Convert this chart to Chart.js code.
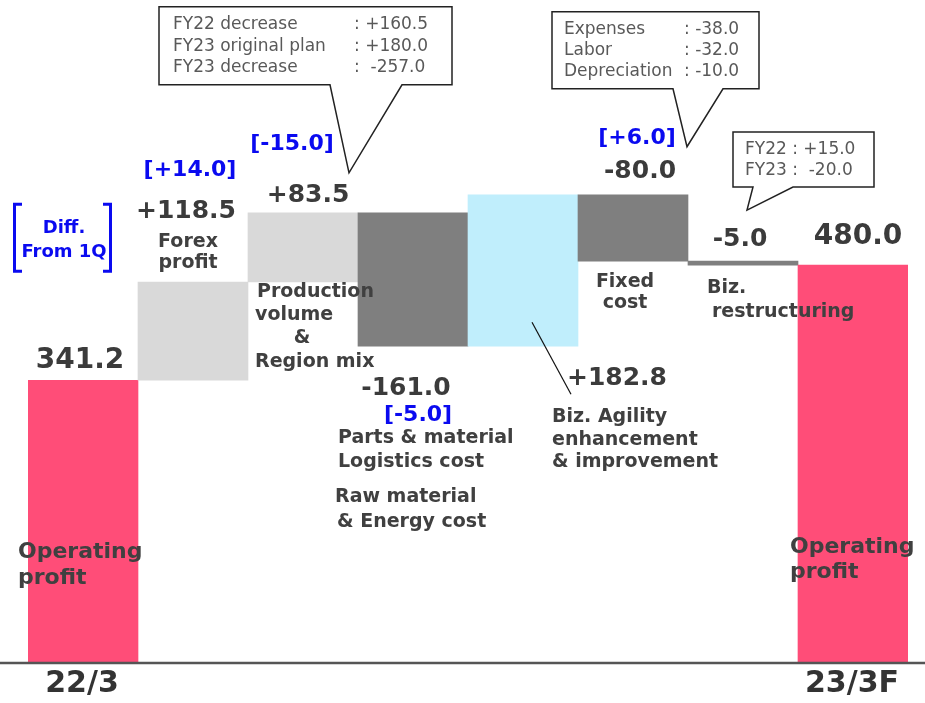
<!DOCTYPE html>
<html>
<head>
<meta charset="utf-8">
<script src="https://cdn.jsdelivr.net/npm/chart.js@4.4.1/dist/chart.umd.min.js"></script>
<style>
  html, body { margin: 0; padding: 0; background: #fff; }
</style>
</head>
<body>
<canvas id="chart" width="925" height="703"></canvas>
<script>
// waterfall: operating profit 22/3 -> 23/3F
const categories = ['22/3', 'Forex profit', 'Production volume & Region mix', 'Parts & material / Raw material',
  'Biz. Agility enhancement', 'Fixed cost', 'Biz. restructuring', '23/3F'];
const tickLabels = ['22/3', '', '', '', '', '', '', '23/3F'];
const changes = [341.2, 118.5, 83.5, -161.0, 182.8, -80.0, -5.0, 480.0];
const isTotal = [true, false, false, false, false, false, false, true];
const diffFrom1Q = ['', '+14.0', '-15.0', '-5.0', '', '+6.0', '', ''];

const volumeBreakdown = [['FY22 decrease', '+160.5'], ['FY23 original plan', '+180.0'], ['FY23 decrease', ' -257.0']];
const fixedBreakdown = [['Expenses', '-38.0'], ['Labor', '-32.0'], ['Depreciation', '-10.0']];
const restructBreakdown = [['FY22', '+15.0'], ['FY23', ' -20.0']];

const barColors = ['#ff4d78', '#d9d9d9', '#d9d9d9', '#7f7f7f', '#c0eefc', '#7f7f7f', '#7f7f7f', '#ff4d78'];

// floating ranges from the running total
let running = 0;
const ranges = changes.map((v, i) => {
  if (isTotal[i]) { running = v; return [0, v]; }
  const start = running;
  running += v;
  return [start, running];
});

const valueText = changes.map((v, i) => isTotal[i] ? v.toFixed(1) : (v > 0 ? '+' : '') + v.toFixed(1));

const FONT = "'DejaVu Sans', Verdana, sans-serif";
const DARK = '#3b3b3b';
const LABEL = '#404040';
const BLUE = '#0a0af0';

function txt(ctx, s, x, y, font, color, align) {
  ctx.font = font;
  ctx.fillStyle = color;
  ctx.textAlign = align || 'center';
  ctx.textBaseline = 'middle';
  ctx.fillText(s, x, y);
}

function callout(ctx, l, t, r, b, b1, b2, tx, ty) {
  ctx.beginPath();
  ctx.moveTo(l, t);
  ctx.lineTo(r, t);
  ctx.lineTo(r, b);
  ctx.lineTo(b2, b);
  ctx.lineTo(tx, ty);
  ctx.lineTo(b1, b);
  ctx.lineTo(l, b);
  ctx.closePath();
  ctx.fillStyle = '#fff';
  ctx.fill();
  ctx.strokeStyle = '#222';
  ctx.lineWidth = 1.5;
  ctx.stroke();
}

const annotations = {
  id: 'annotations',
  afterDatasetsDraw(chart) {
    const ctx = chart.ctx;
    const xs = chart.scales.x, ys = chart.scales.y;
    const cx = i => xs.getPixelForValue(i);
    const hi = i => ys.getPixelForValue(Math.max(...ranges[i]));
    const lo = i => ys.getPixelForValue(Math.min(...ranges[i]));
    const y0 = ys.getPixelForValue(0);
    ctx.save();

    // baseline across the whole width
    ctx.strokeStyle = '#555';
    ctx.lineWidth = 2.5;
    ctx.beginPath();
    ctx.moveTo(0, y0);
    ctx.lineTo(chart.width, y0);
    ctx.stroke();

    // category ticks under the axis
    tickLabels.forEach((s, i) => {
      if (s) txt(ctx, s, cx(i) - 1, y0 + 21, 'bold 30px ' + FONT, '#333');
    });

    // values
    const big = 'bold 28px ' + FONT, mid = 'bold 25px ' + FONT;
    txt(ctx, valueText[0], cx(0) - 3, hi(0) - 20, big, DARK);
    txt(ctx, valueText[1], cx(1) - 7, hi(1) - 71, mid, DARK);
    txt(ctx, valueText[2], cx(2) + 5, hi(2) - 17, mid, DARK);
    txt(ctx, valueText[3], cx(3) - 7, lo(3) + 42, mid, DARK);
    txt(ctx, valueText[4], cx(4) + 94, lo(4) + 32, mid, DARK);
    txt(ctx, valueText[5], cx(5) + 7, hi(5) - 23, mid, DARK);
    txt(ctx, valueText[6], cx(6) - 3, hi(6) - 22, mid, DARK);
    txt(ctx, valueText[7], cx(7) + 5, hi(7) - 28, big, DARK);

    // diff from 1Q
    const bf = 'bold 22px ' + FONT;
    txt(ctx, '[' + diffFrom1Q[1] + ']', cx(1) - 3, hi(1) - 112, bf, BLUE);
    txt(ctx, '[' + diffFrom1Q[2] + ']', cx(2) - 11, hi(2) - 69, bf, BLUE);
    txt(ctx, '[' + diffFrom1Q[3] + ']', cx(3) + 5, lo(3) + 69, bf, BLUE);
    txt(ctx, '[' + diffFrom1Q[5] + ']', cx(5) + 4, hi(5) - 56, bf, BLUE);

    // "Diff. From 1Q" legend with brackets
    const lf = 'bold 18px ' + FONT;
    txt(ctx, 'Diff.', cx(0) - 19, hi(0) - 152, lf, BLUE);
    txt(ctx, 'From 1Q', cx(0) - 19, hi(0) - 128, lf, BLUE);
    ctx.strokeStyle = BLUE;
    ctx.lineWidth = 3;
    ctx.beginPath();
    const bt = hi(0) - 176, bb = hi(0) - 109;
    ctx.moveTo(cx(0) - 61, bt); ctx.lineTo(cx(0) - 68.5, bt); ctx.lineTo(cx(0) - 68.5, bb); ctx.lineTo(cx(0) - 61, bb);
    ctx.moveTo(cx(0) + 20, bt); ctx.lineTo(cx(0) + 27.5, bt); ctx.lineTo(cx(0) + 27.5, bb); ctx.lineTo(cx(0) + 20, bb);
    ctx.stroke();

    // category labels
    const cf = 'bold 19px ' + FONT;
    txt(ctx, 'Forex', cx(1) - 5, hi(1) - 40, cf, LABEL);
    txt(ctx, 'profit', cx(1) - 5, hi(1) - 19, cf, LABEL);
    txt(ctx, 'Production', cx(2) - 46, hi(2) + 79, cf, LABEL, 'left');
    txt(ctx, 'volume', cx(2) - 48, hi(2) + 102, cf, LABEL, 'left');
    txt(ctx, '&', cx(2) - 1, hi(2) + 125, cf, LABEL);
    txt(ctx, 'Region mix', cx(2) - 48, hi(2) + 149, cf, LABEL, 'left');
    txt(ctx, 'Parts & material', cx(3) - 75, lo(3) + 92, cf, LABEL, 'left');
    txt(ctx, 'Logistics cost', cx(3) - 75, lo(3) + 116, cf, LABEL, 'left');
    txt(ctx, 'Raw material', cx(3) - 78, lo(3) + 151, cf, LABEL, 'left');
    txt(ctx, '& Energy cost', cx(3) - 76, lo(3) + 176, cf, LABEL, 'left');
    txt(ctx, 'Biz. Agility', cx(4) + 29, lo(4) + 71, cf, LABEL, 'left');
    txt(ctx, 'enhancement', cx(4) + 29, lo(4) + 94, cf, LABEL, 'left');
    txt(ctx, '& improvement', cx(4) + 29, lo(4) + 116, cf, LABEL, 'left');
    txt(ctx, 'Fixed', cx(5) - 8, lo(5) + 21, cf, LABEL);
    txt(ctx, 'cost', cx(5) - 8, lo(5) + 42, cf, LABEL);
    txt(ctx, 'Biz.', cx(6) - 36, lo(6) + 23, cf, LABEL, 'left');
    txt(ctx, 'restructuring', cx(6) - 31, lo(6) + 47, cf, LABEL, 'left');

    const of = 'bold 22px ' + FONT;
    txt(ctx, 'Operating', cx(0) - 65, y0 - 111, of, LABEL, 'left');
    txt(ctx, 'profit', cx(0) - 65, y0 - 85, of, LABEL, 'left');
    txt(ctx, 'Operating', cx(7) - 63, y0 - 116, of, LABEL, 'left');
    txt(ctx, 'profit', cx(7) - 63, y0 - 91, of, LABEL, 'left');

    // leader line for Biz. Agility
    ctx.strokeStyle = '#111';
    ctx.lineWidth = 1.2;
    ctx.beginPath();
    ctx.moveTo(cx(4) + 9, lo(4) - 24);
    ctx.lineTo(cx(4) + 48, lo(4) + 48);
    ctx.stroke();

    // callouts
    const sf = '17px ' + FONT, sc = '#595959';
    let l = cx(2) - 144, t = hi(2) - 206;
    callout(ctx, l, t, cx(2) + 149, hi(2) - 128, cx(2) + 27, cx(2) + 99, cx(2) + 46, hi(2) - 40);
    volumeBreakdown.forEach((row, k) => {
      txt(ctx, row[0], l + 14, t + 18 + k * 21.5, sf, sc, 'left');
      txt(ctx, ': ' + row[1], l + 195, t + 18 + k * 21.5, sf, sc, 'left');
    });

    l = cx(5) - 81; t = hi(5) - 183;
    callout(ctx, l, t, cx(5) + 126, hi(5) - 106, cx(5) + 40, cx(5) + 90, cx(5) + 54, hi(5) - 48);
    fixedBreakdown.forEach((row, k) => {
      txt(ctx, row[0], l + 12, t + 18 + k * 21, sf, sc, 'left');
      txt(ctx, ': ' + row[1], l + 132, t + 18 + k * 21, sf, sc, 'left');
    });

    l = cx(6) - 10; t = hi(6) - 129;
    callout(ctx, l, t, cx(6) + 131, hi(6) - 74, cx(6) + 10, cx(6) + 50, cx(6) + 4, hi(6) - 51);
    restructBreakdown.forEach((row, k) => {
      txt(ctx, row[0] + ' : ' + row[1], l + 12, t + 18 + k * 21, sf, sc, 'left');
    });

    ctx.restore();
  }
};

new Chart(document.getElementById('chart'), {
  type: 'bar',
  data: {
    labels: tickLabels,
    datasets: [{
      label: 'Operating profit',
      data: ranges,
      backgroundColor: barColors,
      borderWidth: 0,
      categoryPercentage: 1.0,
      barPercentage: 1.0
    }]
  },
  options: {
    responsive: false,
    animation: false,
    layout: { padding: { left: 28, right: 17, top: 0, bottom: 40 } },
    plugins: { legend: { display: false }, tooltip: { enabled: false } },
    scales: {
      x: { display: false },
      y: { display: false, min: 0, max: 800 }
    }
  },
  plugins: [annotations]
});
</script>
</body>
</html>
